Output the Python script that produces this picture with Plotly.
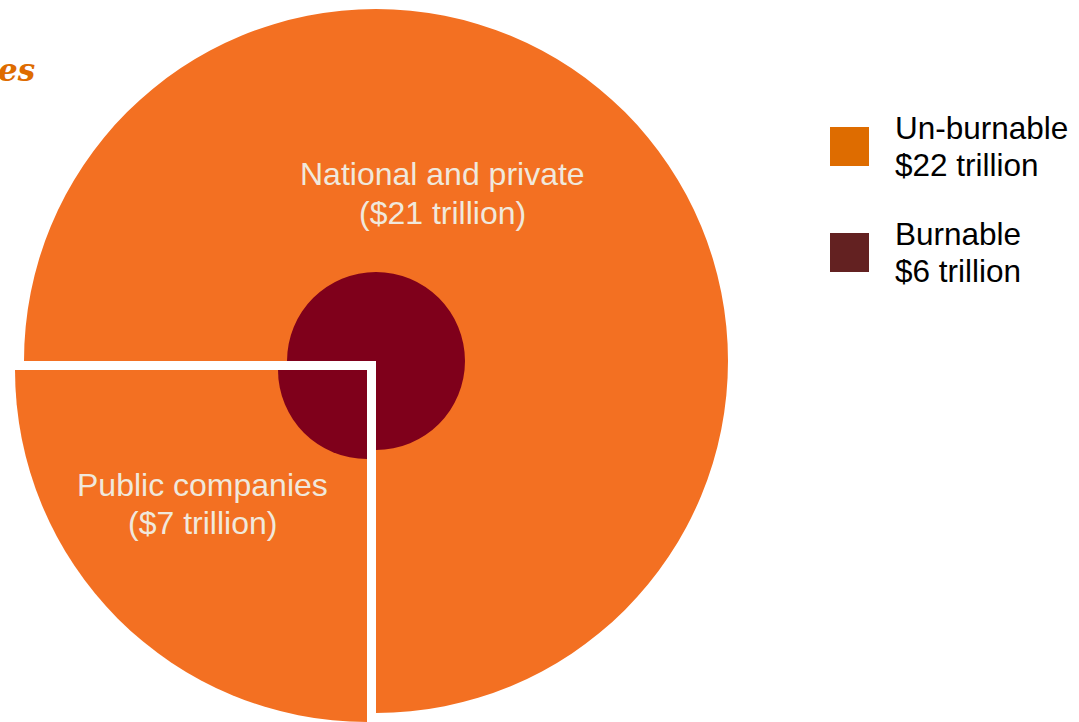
import plotly.graph_objects as go

# Ownership of fossil fuel reserves ($ trillion)
segments = ["National and private", "Public companies"]
segment_values = [21, 7]

# Carbon-budget split of the same reserves ($ trillion)
reserve_labels = ["Un-burnable", "Burnable"]
reserve_values = [22, 6]

title_text = "Fossil fuel reserves"

# Styling
W, H = 1079, 722
ORANGE = "#F37022"
DARK_RED = "#7F001B"
LABEL_COLOR = "#F0E8DC"
LEGEND_COLORS = ["#DE6C00", "#632121"]
TITLE_COLOR = "#DE6C00"
CLEAR = "rgba(0,0,0,0)"
SANS = "Liberation Sans, Arial, sans-serif"

OUTER_R, INNER_R = 352, 89
CENTER = (376, 361)
PULL = (-9, 9)  # pixel offset of the public-companies wedge


def disc_domain(cx, cy, r):
    return dict(
        x=[max(0.0, (cx - r) / W), min(1.0, (cx + r) / W)],
        y=[max(0.0, 1 - (cy + r) / H), min(1.0, 1 - (cy - r) / H)],
    )


def wedge_trace(r, color, exploded):
    cx, cy = CENTER
    if exploded:
        cx, cy = cx + PULL[0], cy + PULL[1]
        colors = [CLEAR, color]
    else:
        colors = [color, CLEAR]
    return go.Pie(
        labels=segments,
        values=segment_values,
        sort=False,
        direction="clockwise",
        rotation=270,
        marker=dict(colors=colors, line=dict(width=0)),
        textinfo="none",
        hoverinfo="skip",
        showlegend=False,
        domain=disc_domain(cx, cy, r),
    )


fig = go.Figure()
fig.add_trace(wedge_trace(OUTER_R, ORANGE, False))
fig.add_trace(wedge_trace(OUTER_R, ORANGE, True))
fig.add_trace(wedge_trace(INNER_R, DARK_RED, False))
fig.add_trace(wedge_trace(INNER_R, DARK_RED, True))

# Legend swatches on a hidden cartesian axis: one row per reserve category
rows = list(range(len(reserve_labels)))
fig.add_trace(
    go.Scatter(
        x=[0] * len(rows),
        y=rows,
        mode="markers",
        marker=dict(symbol="square", size=39, color=LEGEND_COLORS, line=dict(width=0)),
        hoverinfo="skip",
        showlegend=False,
    )
)

annotations = []
for i in rows:
    lines = [reserve_labels[i], f"${reserve_values[i]} trillion"]
    for line, shift in zip(lines, (18.5, -18.5)):
        annotations.append(
            dict(
                x=0, y=i, xref="x", yref="y",
                text=line,
                xanchor="left", yanchor="middle", align="left",
                xshift=43, yshift=shift,
                showarrow=False,
                font=dict(family=SANS, size=31.5, color="#000000"),
            )
        )

# Wedge labels (centre x, first-line y, second-line y)
label_pos = [(442, 174, 213), (202, 484.5, 523)]
for (px, py1, py2), name, val in zip(label_pos, segments, segment_values):
    for line, py in ((name, py1), (f"(${val} trillion)", py2)):
        annotations.append(
            dict(
                x=px / W, y=1 - py / H, xref="paper", yref="paper",
                text=line,
                xanchor="center", yanchor="middle", align="center",
                showarrow=False,
                font=dict(family=SANS, size=32, color=LABEL_COLOR),
            )
        )

# Title, running off the left edge
annotations.append(
    dict(
        x=37 / W, y=1 - 70 / H, xref="paper", yref="paper",
        text=title_text,
        xanchor="right", yanchor="middle",
        showarrow=False,
        font=dict(family="DejaVu Serif, Georgia, serif", size=31, color=TITLE_COLOR,
                  weight="bold", style="italic"),
    )
)

fig.update_layout(
    width=W,
    height=H,
    margin=dict(l=0, r=0, t=0, b=0),
    paper_bgcolor="white",
    plot_bgcolor="white",
    showlegend=False,
    xaxis=dict(visible=False, range=[-849.5, W - 849.5], fixedrange=True),
    yaxis=dict(visible=False, range=[(H - 146.5) / 106, -146.5 / 106], fixedrange=True),
    annotations=annotations,
)

fig.write_html("out.html")
